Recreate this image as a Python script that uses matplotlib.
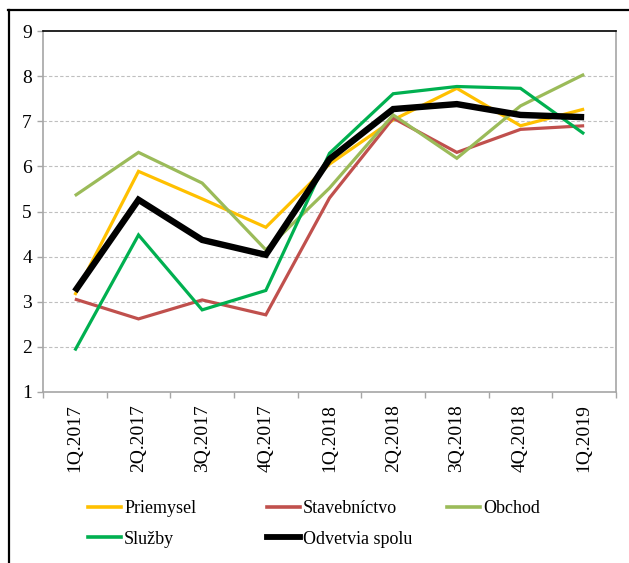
import numpy as np
import matplotlib.pyplot as plt
from matplotlib.lines import Line2D

plt.rcParams['font.family'] = ['Liberation Serif', 'DejaVu Serif']

# data
quarters = ['1Q.2017', '2Q.2017', '3Q.2017', '4Q.2017', '1Q.2018',
            '2Q.2018', '3Q.2018', '4Q.2018', '1Q.2019']
priemysel = [3.15, 5.89, 5.28, 4.65, 6.05, 7.03, 7.73, 6.90, 7.27]
stavebnictvo = [3.06, 2.62, 3.04, 2.71, 5.30, 7.07, 6.31, 6.82, 6.90]
obchod = [5.35, 6.31, 5.63, 4.15, 5.52, 7.14, 6.18, 7.34, 8.04]
sluzby = [1.92, 4.48, 2.82, 3.25, 6.29, 7.61, 7.77, 7.73, 6.72]
spolu = [3.23, 5.26, 4.37, 4.04, 6.16, 7.27, 7.38, 7.14, 7.09]

names = ['Priemysel', 'Stavebníctvo', 'Obchod', 'Služby', 'Odvetvia spolu']
series = [priemysel, stavebnictvo, obchod, sluzby, spolu]
colors = ['#FFC000', '#C0504D', '#9BBB59', '#00B050', '#000000']
widths = [2.3, 2.3, 2.3, 2.3, 4.6]

W, H = 629, 563
fig = plt.figure(figsize=(W / 100, H / 100), dpi=100)
ax = fig.add_axes([43 / W, 1 - 392 / H, (616 - 43) / W, (392 - 31) / H])

x = np.arange(len(quarters))
for vals, c, lw, name in zip(series, colors, widths, names):
    ax.plot(x, vals, color=c, lw=lw, label=name, solid_capstyle='butt',
            solid_joinstyle='miter')

ax.set_xlim(-0.5, len(quarters) - 0.5)
ax.set_ylim(1, 9)
ax.set_yticks(range(1, 10))
ax.set_xticks(x)
ax.set_xticklabels(quarters, rotation=90, fontsize=14)
ax.set_xticks(np.arange(-0.5, len(quarters)), minor=True)
ax.tick_params(axis='x', which='major', length=0, pad=9)
ax.tick_params(axis='x', which='minor', length=4, color='#a6a6a6', width=1)
ax.tick_params(axis='y', length=4, color='#a6a6a6', width=1, pad=4, labelsize=14)

for yv in range(2, 9):
    ax.axhline(yv, color='#bfbfbf', lw=0.8, ls=(0, (3, 2)), zorder=0)

for s in ['left', 'bottom', 'right']:
    ax.spines[s].set_color('#a6a6a6')
    ax.spines[s].set_linewidth(1.2)
ax.spines['top'].set_color('black')
ax.spines['top'].set_linewidth(1.2)

# legend in three columns of equal width
groups = [[0, 3], [1, 4], [2]]
col_x = [88, 267, 447]
for g, cx in zip(groups, col_x):
    lh = [Line2D([], [], color=colors[i], lw=2.6 if i != 4 else 4.2) for i in g]
    fig.legend(lh, [names[i] for i in g], loc='upper left',
               bbox_to_anchor=(cx / W, 1 - 500 / H), frameon=False,
               fontsize=13, handlelength=1.85, handletextpad=0.15,
               borderpad=0, borderaxespad=0, labelspacing=0.75)

# outer frame (top and left edges visible)
fig.add_artist(Line2D([8 / W, 1], [1 - 10 / H, 1 - 10 / H], color='black', lw=1.6))
fig.add_artist(Line2D([9 / W, 9 / W], [1 - 10 / H, 0], color='black', lw=1.6))

fig.savefig('out.png', dpi=100)
